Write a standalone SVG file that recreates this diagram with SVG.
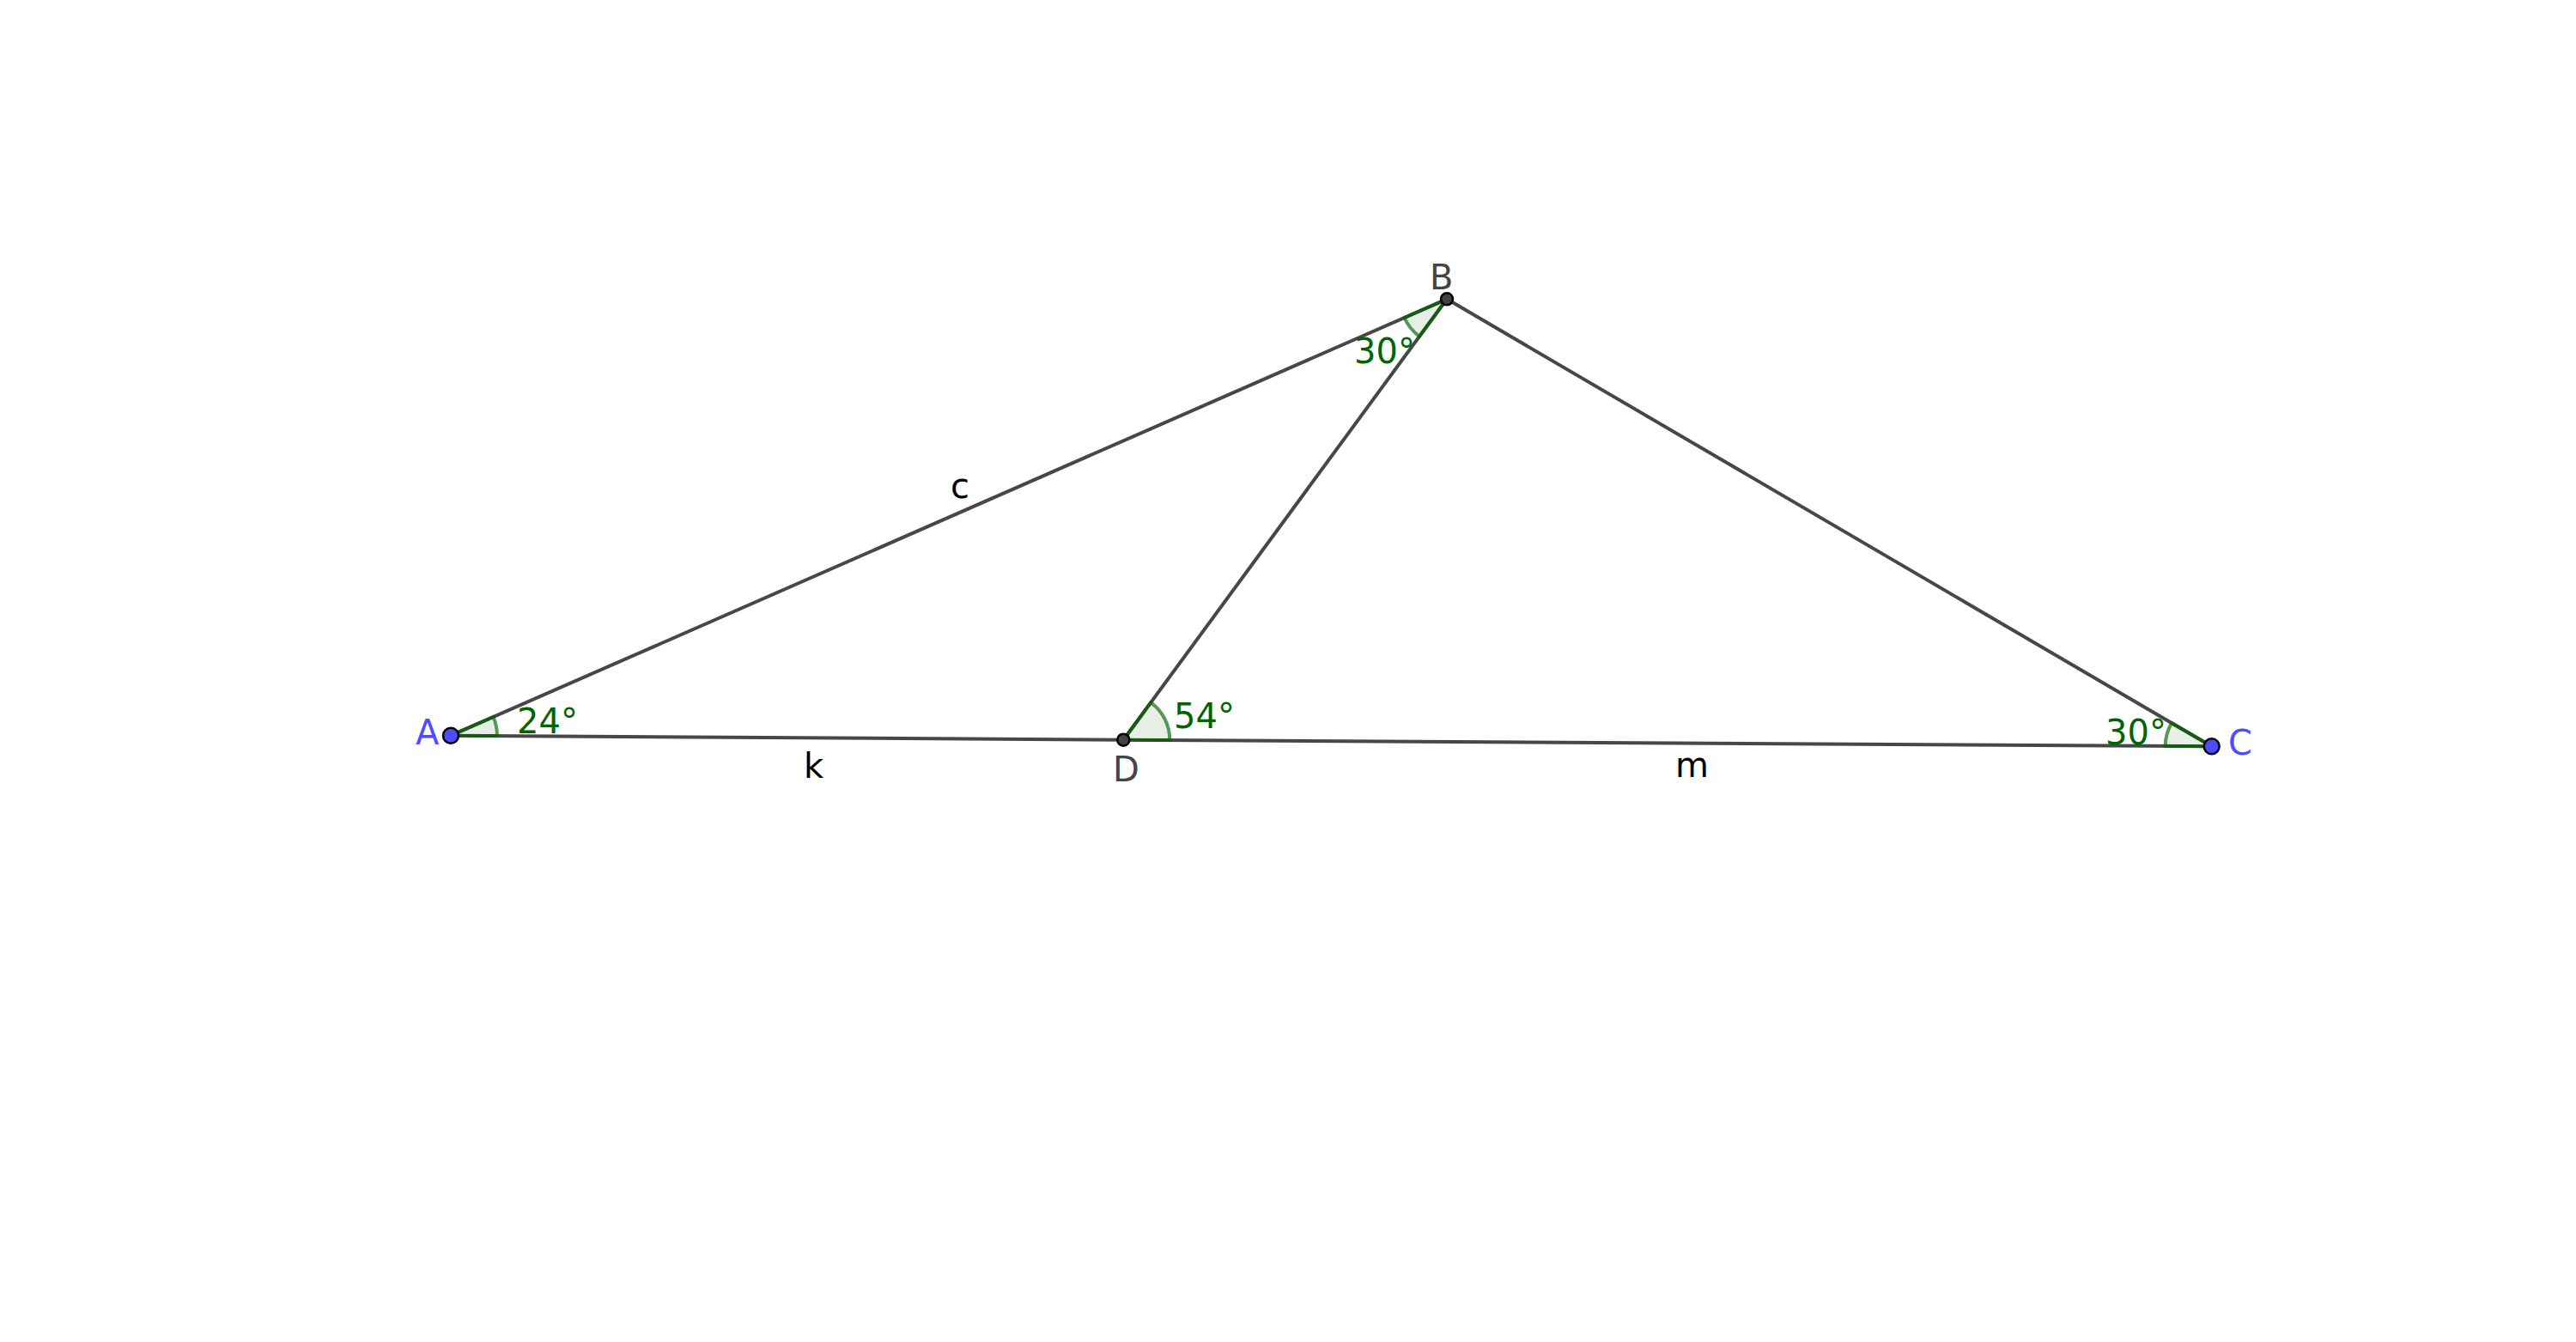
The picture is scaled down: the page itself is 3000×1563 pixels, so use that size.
<svg xmlns="http://www.w3.org/2000/svg" width="3000" height="1563" viewBox="0 0 3000 1563">
<style>
.seg{stroke:#474747;stroke-width:4;fill:none;stroke-linecap:round}
.ang{fill:#006400;fill-opacity:0.1;stroke:#006400;stroke-opacity:0.65;stroke-width:4;stroke-linejoin:round}
.t{font-family:"DejaVu Sans",sans-serif;font-size:40px}
.g{fill:#006400}
.blue{fill:#4d4dff}
.gray{fill:#444}
.blk{fill:#000}
.pb{fill:#4d4dff;stroke:#000;stroke-width:2.5}
.pg{fill:#444;stroke:#000;stroke-width:2.5}
</style>
<rect width="3000" height="1563" fill="#fff"/>
<g id="connectors">
<line class="seg" x1="525" y1="856.7" x2="1685" y2="348.3"/>
<line class="seg" x1="1685" y1="348.3" x2="2575.7" y2="869.3"/>
<line class="seg" x1="525" y1="856.7" x2="1308.3" y2="861.7"/>
<line class="seg" x1="1308.3" y1="861.7" x2="2575.7" y2="869.3"/>
<line class="seg" x1="1308.3" y1="861.7" x2="1685" y2="348.3"/>
</g>
<g id="angles">
<path class="ang" d="M525,856.7 L579,857 A54,54 0 0 0 574.5,835 Z"/>
<path class="ang" d="M1308.3,861.7 L1362.3,862 A54,54 0 0 0 1340.2,818.2 Z"/>
<path class="ang" d="M2575.7,869.3 L2529.1,842 A54,54 0 0 0 2521.7,869 Z"/>
<path class="ang" d="M1685,348.3 L1635.5,370 A54,54 0 0 0 1653.1,391.8 Z"/>
</g>
<g id="labels">
<text class="t blk" x="1107" y="580">c</text>
<text class="t blk" x="936" y="906">k</text>
<text class="t blk" x="1951" y="905">m</text>
<text class="t g" x="602" y="854">24°</text>
<text class="t g" x="1367" y="848">54°</text>
<text class="t g" x="2452" y="867">30°</text>
<text class="t g" x="1577" y="423">30°</text>
</g>
<g id="A"><circle class="pb" cx="525" cy="856.7" r="9"/><text class="t blue" x="484" y="867">A</text></g>
<g id="B"><circle class="pg" cx="1685" cy="348.3" r="7"/><text class="t gray" x="1665" y="337">B</text></g>
<g id="D"><circle class="pg" cx="1308.3" cy="861.7" r="7"/><text class="t gray" x="1296" y="910">D</text></g>
<g id="C"><circle class="pb" cx="2575.7" cy="869.3" r="9"/><text class="t blue" x="2595" y="879">C</text></g>
</svg>
